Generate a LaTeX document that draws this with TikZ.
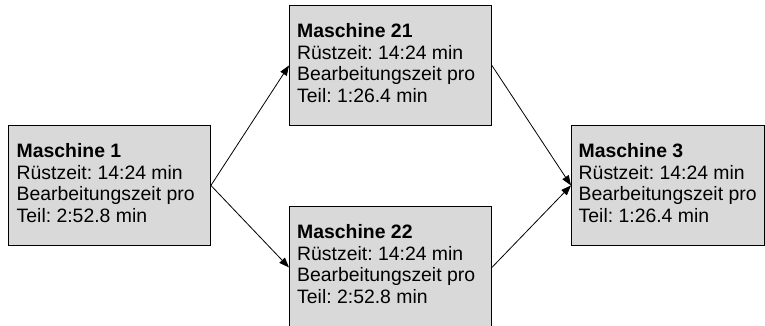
\documentclass[tikz,border=0pt]{standalone}
\usepackage{fontspec}
\setmainfont{Liberation Sans}
\usetikzlibrary{arrows.meta}
\definecolor{boxfill}{RGB}{217,217,217}
\frenchspacing
\tikzset{
  mbox/.style={draw=black, line width=0.9pt, fill=boxfill, rectangle, inner sep=0pt, anchor=north west},
  mtext/.style={anchor=north west, inner sep=0pt, align=left, font=\fontsize{19.4}{21.5}\selectfont\frenchspacing},
  conn/.style={line width=0.8pt, -{Triangle[length=10pt,width=7.5pt]}}
}
\begin{document}
\begin{tikzpicture}[x=1pt,y=-1pt]
\useasboundingbox (0,0) rectangle (765,326);
\node[mbox, minimum width=202pt, minimum height=120pt] (m1) at (8,125) {};
\node[mbox, minimum width=202pt, minimum height=120pt] (m21) at (289,5) {};
\node[mbox, minimum width=202pt, minimum height=122pt] (m22) at (289,206) {};
\node[mbox, minimum width=193pt, minimum height=120pt] (m3) at (571,125) {};
\node[mtext] (t1) at ([xshift=8.5pt,yshift=-18.5pt]m1.north west) {\textbf{Maschine 1}\\Rüstzeit: 14:24 min\\Bearbeitungszeit pro\\Teil: 2:52.8 min};
\node[mtext] (t21) at ([xshift=8pt,yshift=-18.5pt]m21.north west) {\textbf{Maschine 21}\\Rüstzeit: 14:24 min\\Bearbeitungszeit pro\\Teil: 1:26.4 min};
\node[mtext] (t22) at ([xshift=8pt,yshift=-18.5pt]m22.north west) {\textbf{Maschine 22}\\Rüstzeit: 14:24 min\\Bearbeitungszeit pro\\Teil: 2:52.8 min};
\node[mtext] (t3) at ([xshift=7.5pt,yshift=-18.5pt]m3.north west) {\textbf{Maschine 3}\\Rüstzeit: 14:24 min\\Bearbeitungszeit pro\\Teil: 1:26.4 min};
\draw[conn] (m1.east) -- (m21.west);
\draw[conn] (m1.east) -- (m22.west);
\draw[conn] (m21.east) -- (m3.west);
\draw[conn] (m22.east) -- (m3.west);
\end{tikzpicture}
\end{document}
